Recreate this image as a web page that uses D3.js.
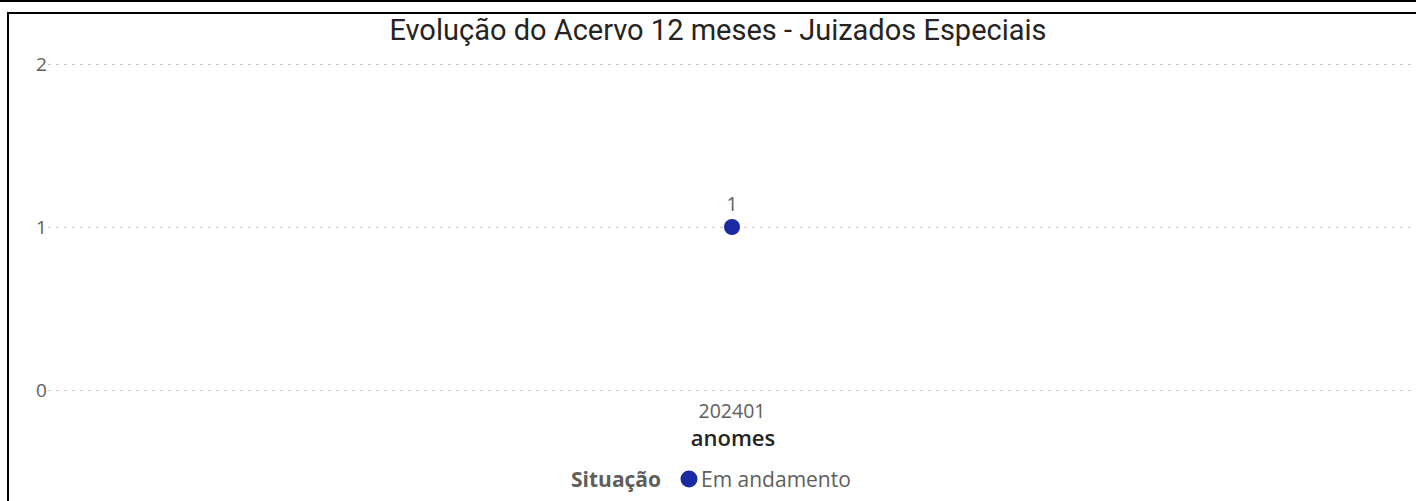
<!DOCTYPE html>
<html>
<head>
<meta charset="utf-8">
<script src="https://cdn.jsdelivr.net/npm/d3@7"></script>
<style>
  body { margin: 0; background: #fff; }
  svg { display: block; }
</style>
</head>
<body>
<svg width="1416" height="501"></svg>
<script>
const months = ["202401"]
const values = [1]
const yTicks = [0, 1, 2]
const title = "Evolução do Acervo 12 meses - Juizados Especiais"
const xTitle = "anomes"
const legendTitle = "Situação"
const seriesName = "Em andamento"

const width = 1416
const height = 501
const color = "#1a2aa0"
const font = "'Open Sans', sans-serif"

const svg = d3.select("svg")

// frame lines
svg.append("line").attr("x1", 0).attr("x2", width).attr("y1", 1).attr("y2", 1)
    .style("stroke", "#000").style("stroke-width", 2)
svg.append("line").attr("x1", 7).attr("x2", width).attr("y1", 13).attr("y2", 13)
    .style("stroke", "#000").style("stroke-width", 2)
svg.append("line").attr("x1", 8).attr("x2", 8).attr("y1", 12).attr("y2", height)
    .style("stroke", "#000").style("stroke-width", 2)

svg.append("text")
    .attr("x", 718).attr("y", 40)
    .attr("text-anchor", "middle")
    .style("font-family", "Roboto, sans-serif")
    .style("font-size", "29px")
    .style("fill", "#252423")
    .text(title)

const x = d3.scaleBand().domain(months).range([48, 1416])
const y = d3.scaleLinear().domain([0, 2]).range([390, 64])

const grid = svg.append("g")
grid.selectAll("line")
    .data(yTicks)
    .join("line")
    .attr("x1", 48).attr("x2", width)
    .attr("y1", d => y(d) + 0.5).attr("y2", d => y(d) + 0.5)
    .style("stroke", "#c8c8c8")
    .style("stroke-width", 1)
    .style("stroke-dasharray", "3,5")

grid.selectAll("text")
    .data(yTicks)
    .join("text")
    .attr("x", 36).attr("y", d => y(d))
    .attr("dy", "0.35em")
    .style("font-family", font)
    .style("font-size", "19px")
    .style("fill", "#605e5c")
    .text(d => d)

svg.append("g").selectAll("text")
    .data(months)
    .join("text")
    .attr("x", d => x(d) + x.bandwidth() / 2)
    .attr("y", 418)
    .attr("text-anchor", "middle")
    .style("font-family", font)
    .style("font-size", "19.5px")
    .style("fill", "#605e5c")
    .text(d => d)

svg.append("text")
    .attr("x", 733).attr("y", 446)
    .attr("text-anchor", "middle")
    .style("font-family", font)
    .style("font-size", "22px")
    .style("font-weight", 600)
    .style("fill", "#252423")
    .text(xTitle)

const pts = svg.append("g").selectAll("g")
    .data(months.map((m, i) => ({ m, v: values[i] })))
    .join("g")
pts.append("circle")
    .attr("cx", d => x(d.m) + x.bandwidth() / 2)
    .attr("cy", d => y(d.v))
    .attr("r", 8)
    .style("fill", color)
pts.append("text")
    .attr("x", d => x(d.m) + x.bandwidth() / 2)
    .attr("y", d => y(d.v) - 16)
    .attr("text-anchor", "middle")
    .style("font-family", font)
    .style("font-size", "19.5px")
    .style("fill", "#605e5c")
    .text(d => d.v)

// legend
const lg = svg.append("g")
lg.append("text")
    .attr("x", 571).attr("y", 487)
    .style("font-family", font)
    .style("font-size", "21px")
    .style("font-weight", 700)
    .style("fill", "#605e5c")
    .text(legendTitle)
lg.append("circle")
    .attr("cx", 689).attr("cy", 479).attr("r", 8.5)
    .style("fill", color)
lg.append("text")
    .attr("x", 701).attr("y", 487)
    .style("font-family", font)
    .style("font-size", "21px")
    .style("fill", "#605e5c")
    .text(seriesName)
</script>
</body>
</html>
